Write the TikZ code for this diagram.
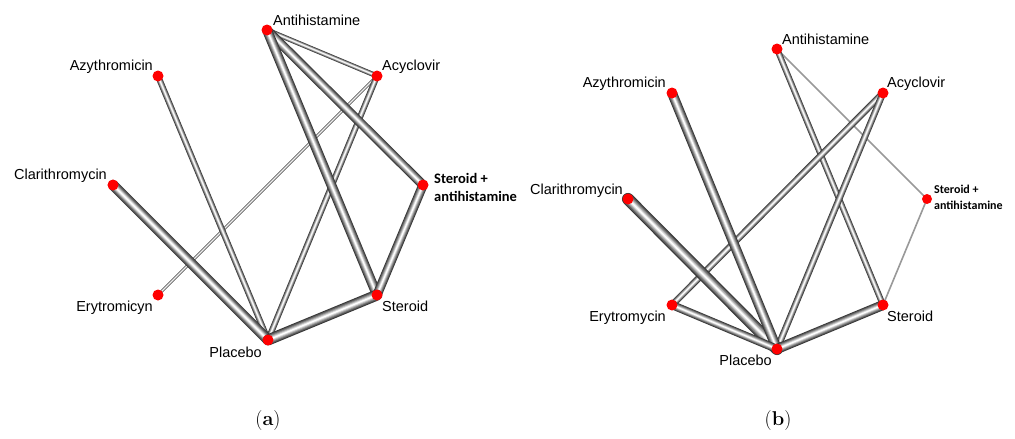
\documentclass[tikz,border=0pt]{standalone}
\usepackage{fontspec}
\newfontfamily\labfont{Liberation Sans}
\newfontfamily\boldlab{Carlito}
\pgfdeclarelayer{background}
\pgfsetlayers{background,main}
\newcommand\tube[3]{%
  \foreach \f/\c in {1.1/black!78, 0.9/black!64, 0.7/black!48, 0.5/black!30, 0.3/black!12, 0.12/white}{%
    \draw[line width=\f*#1pt, draw=\c, line cap=round] (#2.center) -- (#3.center);
  }}
\tikzset{
  dot/.style={circle, fill=red, draw=none, inner sep=0pt, minimum size=11pt},
  lab/.style={inner sep=0pt, text height=10.4pt, text depth=0pt, font=\labfont\fontsize{14.5}{17}\selectfont},
  lab2/.style={inner sep=0pt, align=left, font=\boldlab\bfseries\fontsize{14.5}{18}\selectfont},
  lab2b/.style={inner sep=0pt, align=left, font=\boldlab\bfseries\fontsize{12}{16}\selectfont},
  captext/.style={inner sep=0pt, font=\fontsize{20}{24}\selectfont},
  thinedge/.style={line width=1.6pt, draw=black!40}
}
\begin{document}
\begin{tikzpicture}[x=1pt,y=-1pt]
\useasboundingbox (0,0) rectangle (1015,439);
% ---------- panel (a) ----------
\node[dot] (aAnt) at (267,30) {};
\node[dot] (aAzy) at (158,76) {};
\node[dot] (aAcy) at (377,76) {};
\node[dot] (aCla) at (113,185) {};
\node[dot] (aSA)  at (423,185) {};
\node[dot] (aEry) at (158,295) {};
\node[dot] (aSte) at (377,295) {};
\node[dot] (aPla) at (268,340) {};
\node[lab, anchor=west] (laAnt) at (273,20) {Antihistamine};
\node[lab, anchor=east] (laAzy) at (153,65) {Azythromicin};
\node[lab, anchor=west] (laAcy) at (382,65) {Acyclovir};
\node[lab, anchor=east] (laCla) at (107,174) {Clarithromycin};
\node[lab2, anchor=west] (laSA) at (434,187) {Steroid +\\antihistamine};
\node[lab, anchor=east] (laEry) at (153,306) {Erytromicyn};
\node[lab, anchor=west] (laSte) at (382,306) {Steroid};
\node[lab, anchor=east] (laPla) at (262,352) {Placebo};
\node[captext] (capa) at (268,421) {(\textbf{a})};
% ---------- panel (b) ----------
\node[dot] (bAnt) at (777,49) {};
\node[dot] (bAzy) at (672,93) {};
\node[dot] (bAcy) at (883,93) {};
\node[dot] (bCla) at (628,199) {};
\node[dot, minimum size=10pt] (bSA)  at (927,199) {};
\node[dot] (bEry) at (672,305) {};
\node[dot] (bSte) at (883,305) {};
\node[dot] (bPla) at (777,349) {};
\node[lab, anchor=west] (lbAnt) at (782,39) {Antihistamine};
\node[lab, anchor=east] (lbAzy) at (666,82) {Azythromicin};
\node[lab, anchor=west] (lbAcy) at (887,82) {Acyclovir};
\node[lab, anchor=east] (lbCla) at (623,189) {Clarithromycin};
\node[lab2b, anchor=west] (lbSA) at (934,197) {Steroid +\\antihistamine};
\node[lab, anchor=east] (lbEry) at (666,316) {Erytromycin};
\node[lab, anchor=west] (lbSte) at (887,316) {Steroid};
\node[lab, anchor=east] (lbPla) at (772,360) {Placebo};
\node[captext] (capb) at (778,421) {(\textbf{b})};
\begin{pgfonlayer}{background}
  \fill[white] (0,0) rectangle (1015,439);
  % panel (a)
  \tube{2.5}{aAcy}{aEry}
  \tube{4.5}{aAnt}{aAcy}
  \tube{5.5}{aAzy}{aPla}
  \tube{5.5}{aAcy}{aPla}
  \tube{9.5}{aCla}{aPla}
  \tube{8.5}{aAnt}{aSA}
  \tube{9}{aAnt}{aSte}
  \tube{8.5}{aSA}{aSte}
  \tube{10}{aSte}{aPla}
  % panel (b)
  \draw[thinedge] (bAnt.center) -- (bSA.center);
  \draw[thinedge] (bSA.center) -- (bSte.center);
  \tube{5.5}{bAnt}{bSte}
  \tube{6}{bAcy}{bEry}
  \tube{6}{bAcy}{bPla}
  \tube{11}{bCla}{bPla}
  \tube{9}{bAzy}{bPla}
  \tube{7.5}{bEry}{bPla}
  \tube{9}{bSte}{bPla}
\end{pgfonlayer}
\end{tikzpicture}
\end{document}
